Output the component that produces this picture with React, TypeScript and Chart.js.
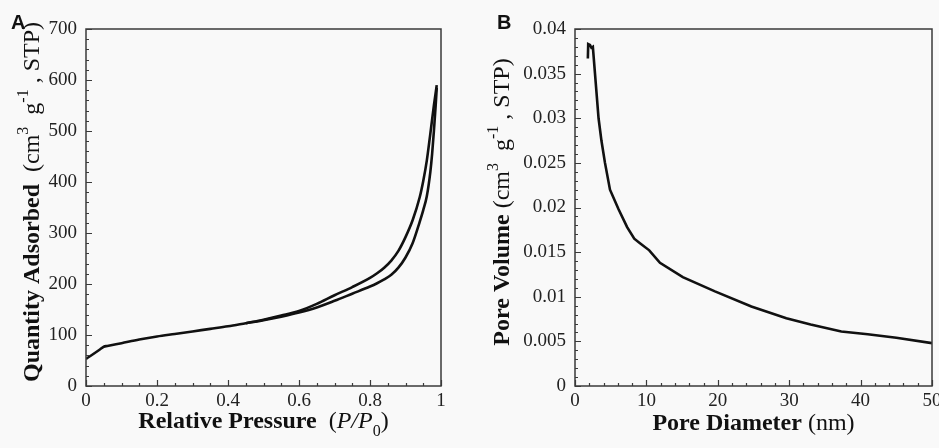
import React, { useEffect, useRef } from "react";
import { Chart, registerables } from "chart.js";

Chart.register(...registerables);

// ---------- Panel A: N2 adsorption–desorption isotherm ----------
const adsPressure = [0, 0.04, 0.05, 0.06, 0.1, 0.15, 0.2, 0.25, 0.3, 0.35, 0.4, 0.45, 0.5, 0.55, 0.6, 0.65, 0.7, 0.75, 0.8, 0.82, 0.84, 0.86, 0.88, 0.9, 0.92, 0.94, 0.95, 0.96, 0.97, 0.975, 0.98, 0.985, 0.988];
const adsQuantity = [53, 72, 77, 78.5, 84, 91, 97, 102, 107, 112, 117, 123, 129, 136, 144, 154, 167, 181, 195, 201.5, 209, 218, 232, 252, 280, 322, 345, 372, 420, 455, 500, 550, 585];
const desPressure = [0.45, 0.5, 0.55, 0.6, 0.65, 0.7, 0.75, 0.8, 0.82, 0.84, 0.86, 0.88, 0.9, 0.92, 0.94, 0.95, 0.96, 0.97, 0.98, 0.988];
const desQuantity = [123, 130, 138, 147, 161, 178, 194, 212, 221, 232, 246, 265, 292, 325, 370, 402, 442, 495, 550, 590];

const xTicksA = [0, 0.2, 0.4, 0.6, 0.8, 1];
const xTickLabelsA = ["0", "0.2", "0.4", "0.6", "0.8", "1"];
const yTicksA = [0, 100, 200, 300, 400, 500, 600, 700];
const yTickLabelsA = ["0", "100", "200", "300", "400", "500", "600", "700"];
const xMinorStepA = 0.05;
const yMinorStepA = 20;

// ---------- Panel B: pore size distribution ----------
const poreDiameter = [1.8, 1.85, 2.1, 2.3, 2.5, 2.8, 3.3, 3.7, 4.2, 4.9, 6.1, 7.3, 8.3, 9.1, 10.4, 11.9, 15.1, 19.6, 24.7, 29.6, 33.0, 37.3, 41, 45, 50];
const poreVolume = [0.0367, 0.0383, 0.0382, 0.0379, 0.038, 0.035, 0.03, 0.0275, 0.025, 0.022, 0.0198, 0.0178, 0.0165, 0.016, 0.0152, 0.0138, 0.0122, 0.0106, 0.0089, 0.0076, 0.0069, 0.0061, 0.0058, 0.0054, 0.0048];

const xTicksB = [0, 10, 20, 30, 40, 50];
const xTickLabelsB = ["0", "10", "20", "30", "40", "50"];
const yTicksB = [0, 0.005, 0.01, 0.015, 0.02, 0.025, 0.03, 0.035, 0.04];
const yTickLabelsB = ["0", "0.005", "0.01", "0.015", "0.02", "0.025", "0.03", "0.035", "0.04"];
const xMinorStepB = 2;
const yMinorStepB = 0.001;

// ---------- styling ----------
const SERIF = '"Liberation Serif", "Times New Roman", Times, serif';
const SANS = '"Liberation Sans", Arial, Helvetica, sans-serif';
const BG = "#f9f9f9";
const AXIS = "#3a3a3a";
const INK = "#111111";

type Seg = { text: string; font: string; dy?: number };

function drawRich(ctx: CanvasRenderingContext2D, segs: Seg[], cx: number, cy: number, rotate: boolean) {
  ctx.save();
  ctx.translate(cx, cy);
  if (rotate) ctx.rotate(-Math.PI / 2);
  ctx.textBaseline = "alphabetic";
  ctx.textAlign = "left";
  ctx.fillStyle = INK;
  const widths = segs.map((s) => {
    ctx.font = s.font;
    return ctx.measureText(s.text).width;
  });
  const total = widths.reduce((a, b) => a + b, 0);
  let x = -total / 2;
  segs.forEach((s, i) => {
    ctx.font = s.font;
    ctx.fillText(s.text, x, s.dy || 0);
    x += widths[i];
  });
  ctx.restore();
}

type PanelCfg = {
  letter: string;
  letterX: number;
  xTicks: number[];
  xLabels: string[];
  yTicks: number[];
  yLabels: string[];
  xMinor: number;
  yMinor: number;
  xTitle: Seg[];
  yTitle: Seg[];
  xTitleY: number;
  yTitleX: number;
  yAxisWidth: number;
  padRight: number;
};

function labelFor(v: number, ticks: number[], labels: string[]) {
  const tol = Math.abs(ticks[ticks.length - 1] - ticks[0]) * 1e-6;
  const i = ticks.findIndex((t) => Math.abs(t - v) <= tol);
  return i >= 0 ? labels[i] : "";
}

function decorPlugin(cfg: PanelCfg) {
  return {
    id: "decor" + cfg.letter,
    beforeDraw(chart: any) {
      const { ctx, width, height } = chart;
      ctx.save();
      ctx.fillStyle = BG;
      ctx.fillRect(0, 0, width, height);
      ctx.restore();
    },
    afterDraw(chart: any) {
      const { ctx, chartArea: a, scales } = chart;
      const xs = scales.x;
      const ys = scales.y;
      ctx.save();
      ctx.strokeStyle = AXIS;
      ctx.lineWidth = 1.5;
      ctx.strokeRect(a.left, a.top, a.right - a.left, a.bottom - a.top);
      ctx.lineWidth = 1.2;
      ctx.beginPath();
      const isMajor = (v: number, ticks: number[]) =>
        ticks.some((t) => Math.abs(t - v) < Math.abs(ticks[1] - ticks[0]) * 1e-3);
      const xmin = cfg.xTicks[0];
      const xmax = cfg.xTicks[cfg.xTicks.length - 1];
      const nx = Math.round((xmax - xmin) / cfg.xMinor);
      for (let i = 0; i <= nx; i++) {
        const v = xmin + i * cfg.xMinor;
        const px = Math.round(xs.getPixelForValue(v)) + 0.5;
        const len = isMajor(v, cfg.xTicks) ? 6 : 3;
        ctx.moveTo(px, a.bottom);
        ctx.lineTo(px, a.bottom - len);
      }
      const ymin = cfg.yTicks[0];
      const ymax = cfg.yTicks[cfg.yTicks.length - 1];
      const ny = Math.round((ymax - ymin) / cfg.yMinor);
      for (let i = 0; i <= ny; i++) {
        const v = ymin + i * cfg.yMinor;
        const py = Math.round(ys.getPixelForValue(v)) + 0.5;
        const len = isMajor(v, cfg.yTicks) ? 6 : 3;
        ctx.moveTo(a.left, py);
        ctx.lineTo(a.left + len, py);
      }
      ctx.stroke();

      // panel letter
      ctx.fillStyle = INK;
      ctx.font = `bold 20px ${SANS}`;
      ctx.textBaseline = "alphabetic";
      ctx.textAlign = "left";
      ctx.fillText(cfg.letter, cfg.letterX, 29);

      // axis titles
      drawRich(ctx, cfg.xTitle, (a.left + a.right) / 2, cfg.xTitleY, false);
      drawRich(ctx, cfg.yTitle, cfg.yTitleX, 202, true);
      ctx.restore();
    },
  };
}

function buildChart(canvas: HTMLCanvasElement, cfg: PanelCfg, datasets: any[], xr: [number, number], yr: [number, number]) {
  const tickFont = { family: SERIF, size: 19 };
  return new Chart(canvas, {
    type: "scatter",
    data: { datasets },
    plugins: [decorPlugin(cfg)],
    options: {
      animation: false,
      responsive: false,
      devicePixelRatio: 1,
      layout: { padding: { left: 0, right: cfg.padRight, top: 29, bottom: 0 } },
      plugins: { legend: { display: false }, tooltip: { enabled: false } },
      elements: { point: { radius: 0 } },
      scales: {
        x: {
          type: "linear",
          min: xr[0],
          max: xr[1],
          grid: { display: false, drawTicks: false },
          border: { display: false },
          afterBuildTicks: (s: any) => {
            s.ticks = cfg.xTicks.map((v) => ({ value: v }));
          },
          afterFit: (s: any) => {
            s.height = 62;
          },
          ticks: {
            autoSkip: false,
            maxRotation: 0,
            padding: 4,
            color: "#222",
            font: tickFont,
            callback: (v: any) => labelFor(Number(v), cfg.xTicks, cfg.xLabels),
          },
        },
        y: {
          type: "linear",
          min: yr[0],
          max: yr[1],
          grid: { display: false, drawTicks: false },
          border: { display: false },
          afterBuildTicks: (s: any) => {
            s.ticks = cfg.yTicks.map((v) => ({ value: v }));
          },
          afterFit: (s: any) => {
            s.width = cfg.yAxisWidth;
          },
          ticks: {
            autoSkip: false,
            padding: 9,
            color: "#222",
            font: tickFont,
            callback: (v: any) => labelFor(Number(v), cfg.yTicks, cfg.yLabels),
          },
        },
      },
    } as any,
  });
}

const big = (w: string, style = "") => `${style}${w} 24px ${SERIF}`;

export default function App() {
  const refA = useRef<HTMLCanvasElement>(null);
  const refB = useRef<HTMLCanvasElement>(null);

  useEffect(() => {
    document.body.style.margin = "0";
    const supFont = `16px ${SERIF}`;
    const cfgA: PanelCfg = {
      letter: "A",
      letterX: 11,
      xTicks: xTicksA,
      xLabels: xTickLabelsA,
      yTicks: yTicksA,
      yLabels: yTickLabelsA,
      xMinor: xMinorStepA,
      yMinor: yMinorStepA,
      xTitle: [
        { text: "Relative Pressure", font: big("bold") },
        { text: "  (", font: big("normal") },
        { text: "P/P", font: big("normal", "italic ") },
        { text: "0", font: supFont, dy: 8 },
        { text: ")", font: big("normal") },
      ],
      yTitle: [
        { text: "Quantity Adsorbed", font: big("bold") },
        { text: "  (cm", font: big("normal") },
        { text: "3", font: supFont, dy: -11 },
        { text: "  g", font: big("normal") },
        { text: "-1", font: supFont, dy: -11 },
        { text: " , STP)", font: big("normal") },
      ],
      xTitleY: 428,
      yTitleX: 39,
      yAxisWidth: 86,
      padRight: 29,
    };
    const cfgB: PanelCfg = {
      letter: "B",
      letterX: 27,
      xTicks: xTicksB,
      xLabels: xTickLabelsB,
      yTicks: yTicksB,
      yLabels: yTickLabelsB,
      xMinor: xMinorStepB,
      yMinor: yMinorStepB,
      xTitle: [
        { text: "Pore Diameter", font: big("bold") },
        { text: " (nm)", font: big("normal") },
      ],
      yTitle: [
        { text: "Pore Volume", font: big("bold") },
        { text: " (cm", font: big("normal") },
        { text: "3", font: supFont, dy: -11 },
        { text: "  g", font: big("normal") },
        { text: "-1", font: supFont, dy: -11 },
        { text: " , STP)", font: big("normal") },
      ],
      xTitleY: 430,
      yTitleX: 39,
      yAxisWidth: 105,
      padRight: 18,
    };
    const lineStyle = { showLine: true, borderColor: INK, borderWidth: 2.6, pointRadius: 0, fill: false, tension: 0 };
    const chartA = buildChart(
      refA.current!,
      cfgA,
      [
        { ...lineStyle, label: "Adsorption", cubicInterpolationMode: "monotone", data: adsPressure.map((x, i) => ({ x, y: adsQuantity[i] })) },
        { ...lineStyle, label: "Desorption", cubicInterpolationMode: "monotone", data: desPressure.map((x, i) => ({ x, y: desQuantity[i] })) },
      ],
      [0, 1],
      [0, 700]
    );
    const chartB = buildChart(
      refB.current!,
      cfgB,
      [{ ...lineStyle, label: "Pore volume", data: poreDiameter.map((x, i) => ({ x, y: poreVolume[i] })) }],
      [0, 50],
      [0, 0.04]
    );
    return () => {
      chartA.destroy();
      chartB.destroy();
    };
  }, []);

  return (
    <div style={{ position: "relative", width: 939, height: 448, overflow: "hidden", background: BG }}>
      <canvas ref={refA} width={470} height={448} style={{ position: "absolute", left: 0, top: 0 }} />
      <canvas ref={refB} width={480} height={448} style={{ position: "absolute", left: 470, top: 0 }} />
    </div>
  );
}
